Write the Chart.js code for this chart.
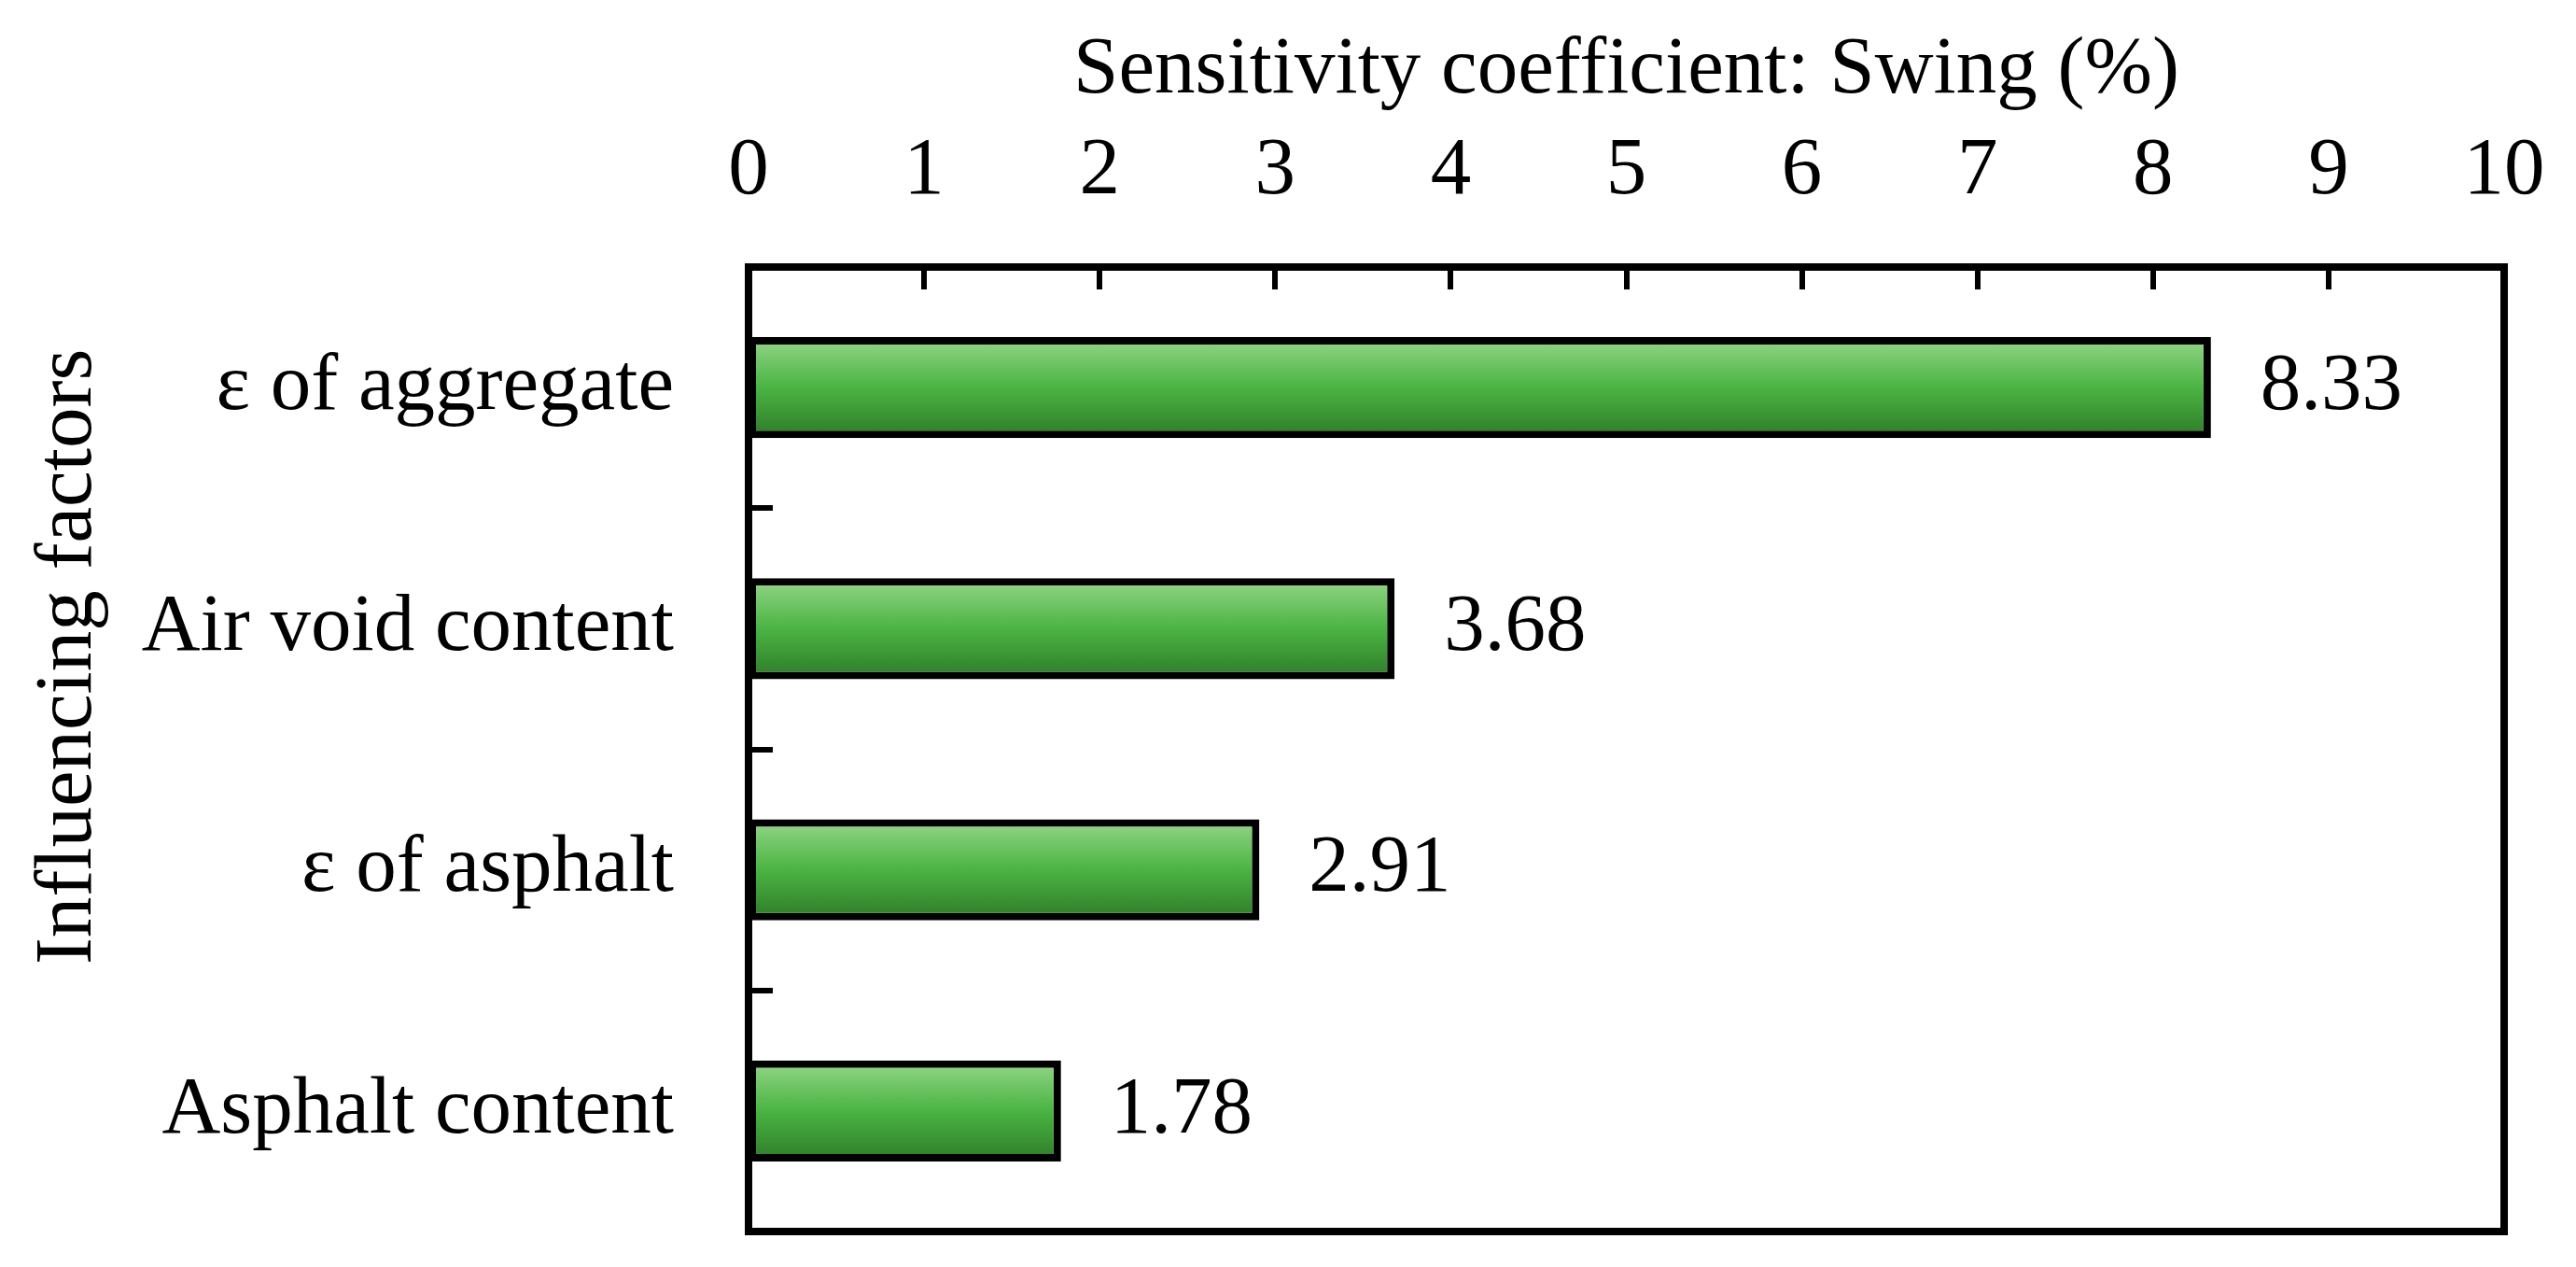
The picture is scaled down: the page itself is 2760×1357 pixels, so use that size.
<!DOCTYPE html>
<html>
<head>
<meta charset="utf-8">
<script src="https://cdn.jsdelivr.net/npm/chart.js@4/dist/chart.umd.min.js"></script>
<style>
  html, body { margin: 0; padding: 0; background: #ffffff; }
  #wrap { width: 2760px; height: 1357px; }
</style>
</head>
<body>
<div id="wrap"><canvas id="c" width="2760" height="1357"></canvas></div>
<script>
const categories = ['ε of aggregate', 'Air void content', 'ε of asphalt', 'Asphalt content'];
const swingValues = [8.33, 3.68, 2.91, 1.78];
const xTickMin = 0;
const xTickMax = 10;
const xTickStep = 1;
const xTitle = 'Sensitivity coefficient: Swing (%)';
const yTitle = 'Influencing factors';

const FONT = 'Liberation Serif';
const FS = 87;
const BAR_PCT = 0.42;

function barGradient(ctx) {
  if (ctx.type !== 'data') return '#4bb443';
  const chart = ctx.chart;
  const ys = chart.scales.y;
  if (!ys || !chart.chartArea) return '#4bb443';
  const c = ys.getPixelForValue(ctx.dataIndex);
  const h = (ys.height / categories.length) * BAR_PCT / 2;
  const g = chart.ctx.createLinearGradient(0, c - h, 0, c + h);
  g.addColorStop(0, '#96d68a');
  g.addColorStop(0.5, '#4ab442');
  g.addColorStop(1, '#2e7a28');
  return g;
}

function zeroPad(s) {
  s.paddingTop = 0; s.paddingBottom = 0; s.paddingLeft = 0; s.paddingRight = 0;
}

const framePlugin = {
  id: 'frame',
  afterDatasetsDraw(chart) {
    const ctx = chart.ctx;
    const ca = chart.chartArea;
    const xs = chart.scales.x;
    const ys = chart.scales.y;
    ctx.save();
    // value labels
    const meta = chart.getDatasetMeta(0);
    ctx.fillStyle = '#000';
    ctx.font = FS + 'px "' + FONT + '"';
    ctx.textAlign = 'left';
    ctx.textBaseline = 'middle';
    meta.data.forEach((el, i) => {
      ctx.fillText(swingValues[i].toFixed(2), el.x + 53, el.y);
    });
    // y axis title (placed slightly above the plot centre, as in the original)
    ctx.save();
    ctx.translate(74, (ca.top + ca.bottom) / 2 - 99);
    ctx.rotate(-Math.PI / 2);
    ctx.textAlign = 'center';
    ctx.textBaseline = 'middle';
    ctx.fillText(yTitle, 0, 0);
    ctx.restore();
    // frame
    ctx.strokeStyle = '#000';
    ctx.lineWidth = 8;
    ctx.lineJoin = 'miter';
    ctx.strokeRect(ca.left, ca.top, ca.right - ca.left, ca.bottom - ca.top);
    // x ticks (inward, top)
    ctx.lineWidth = 6;
    ctx.beginPath();
    for (let v = xTickMin + xTickStep; v < xTickMax; v += xTickStep) {
      const px = Math.round(xs.getPixelForValue(v));
      ctx.moveTo(px, ca.top);
      ctx.lineTo(px, ca.top + 24);
    }
    // y ticks (inward, left) at category boundaries
    for (let i = 0; i < categories.length - 1; i++) {
      const py = Math.round((ys.getPixelForValue(i) + ys.getPixelForValue(i + 1)) / 2);
      ctx.moveTo(ca.left, py);
      ctx.lineTo(ca.left + 26, py);
    }
    ctx.stroke();
    ctx.restore();
  }
};

new Chart(document.getElementById('c'), {
  type: 'bar',
  data: {
    labels: categories,
    datasets: [{
      data: swingValues,
      backgroundColor: barGradient,
      borderColor: '#000',
      borderWidth: 8,
      borderSkipped: false,
      categoryPercentage: 1,
      barPercentage: BAR_PCT
    }]
  },
  options: {
    indexAxis: 'y',
    responsive: false,
    devicePixelRatio: 1,
    animation: false,
    layout: { padding: { left: 0, top: 0, right: 77, bottom: 38 } },
    plugins: { legend: { display: false }, tooltip: { enabled: false } },
    scales: {
      x: {
        position: 'top',
        min: xTickMin,
        max: xTickMax,
        ticks: { stepSize: xTickStep, color: '#000', font: { family: FONT, size: FS }, padding: 50, maxRotation: 0 },
        grid: { display: false, drawTicks: false },
        border: { display: false },
        title: { display: true, text: xTitle, color: '#000', font: { family: FONT, size: FS }, padding: { top: 24, bottom: 0 } },
        afterFit(s) { s.height = 286; zeroPad(s); }
      },
      y: {
        ticks: { color: '#000', font: { family: FONT, size: FS }, padding: 80 },
        grid: { display: false, drawTicks: false },
        border: { display: false },
        title: { display: false, text: yTitle },
        afterFit(s) { s.width = 802; zeroPad(s); }
      }
    }
  },
  plugins: [framePlugin]
});
</script>
</body>
</html>
